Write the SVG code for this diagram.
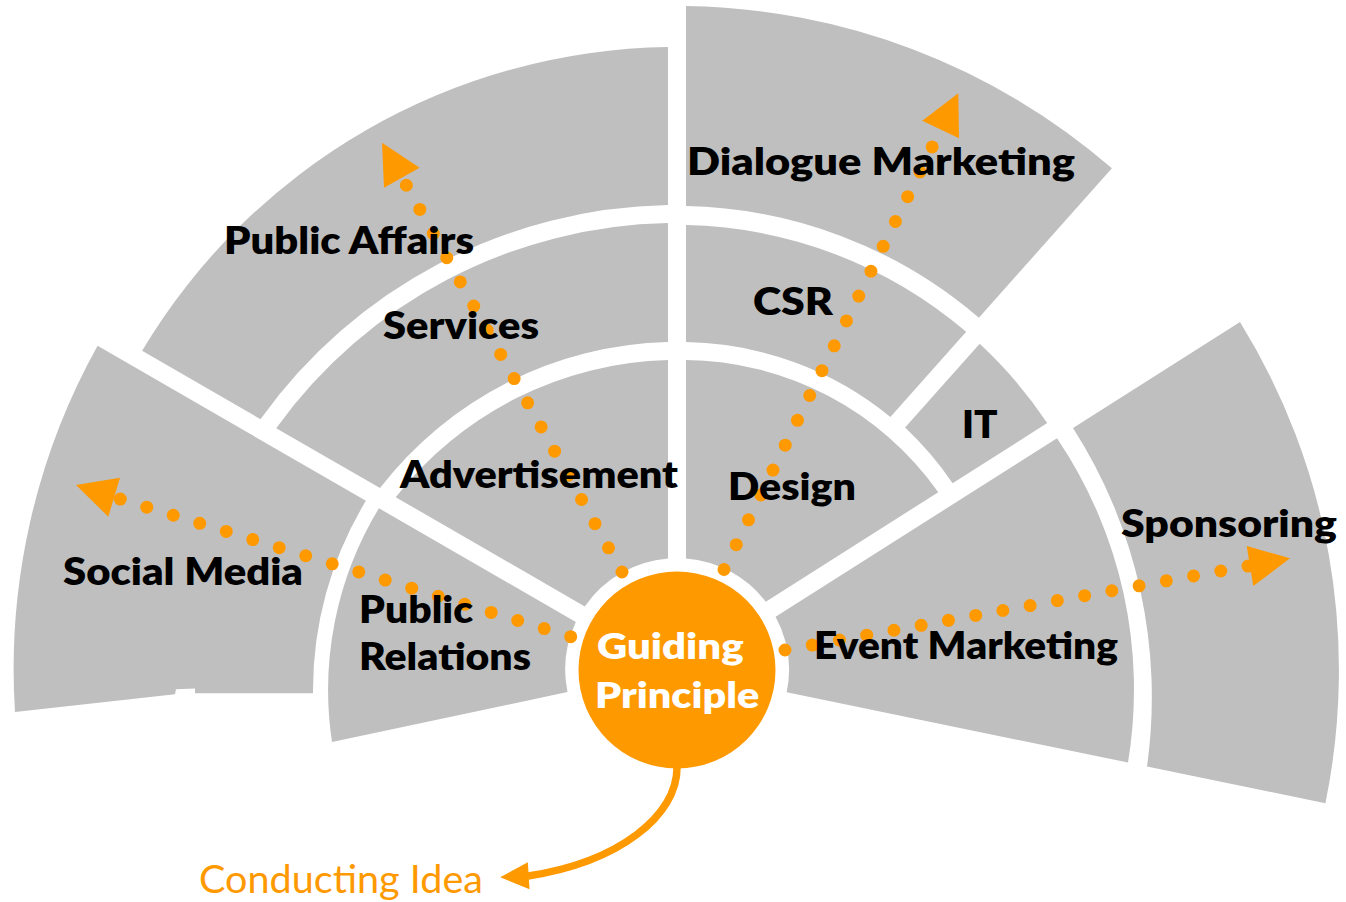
<svg xmlns="http://www.w3.org/2000/svg" width="1346" height="902" viewBox="0 0 1346 902">
<defs>
<style>
.seg{fill:#BFBFBF}
.lbl{font-family:Lato,"Liberation Sans",sans-serif;font-weight:800;font-size:38px;fill:#000}
.gp{font-family:Lato,"Liberation Sans",sans-serif;font-weight:800;font-size:35px;fill:#fff}
.ci{font-family:Lato,"Liberation Sans",sans-serif;font-weight:400;font-size:38px;fill:#FF9900}
.dots{fill:none;stroke:#FF9900;stroke-width:13;stroke-linecap:round;stroke-dasharray:0 1}
.ah{fill:#FF9900}
.curve{fill:none;stroke:#FF9900;stroke-width:7.5}
</style>
</defs>
<rect width="1346" height="902" fill="#fff"/>

<g id="social-media">
<path class="seg" d="M97.6,345.8 A664,664 0 0 0 15,712 L175,694.2 L176,689.3 L195,688.6 L195,693.3 L313,693.3 A365,365 0 0 1 365.9,500.8 Z"/>
</g>
<g id="public-relations">
<path class="seg" d="M575.8,622 L378.9,508.3 A350,350 0 0 0 332,742 L567.5,692 A112,112 0 0 1 575.8,622 Z"/>
</g>
<g id="advertisement">
<path class="seg" d="M584.8,606.4 L395.7,497.2 A357,357 0 0 1 668,360.1 L668,558.4 A112,112 0 0 0 584.8,606.4 Z"/>
</g>
<g id="services">
<path class="seg" d="M380,488.1 L276.2,428.2 A494,494 0 0 1 668,223.1 L668,342.1 A375,375 0 0 0 380,488.1 Z"/>
</g>
<g id="public-affairs">
<path class="seg" d="M260.5,419.2 L142.1,350.7 A623,623 0 0 1 668,47.1 L668,205.1 A512,512 0 0 0 260.5,419.2 Z"/>
</g>
<g id="design">
<path class="seg" d="M686,558.4 L686,360.1 A313,313 0 0 1 938.3,492.2 L765.8,601.7 A112,112 0 0 0 686,558.4 Z"/>
</g>
<g id="csr">
<path class="seg" d="M686,342.1 L686,225.1 A445,445 0 0 1 966.2,331.8 L890.4,417 A331,331 0 0 0 686,342.1 Z"/>
</g>
<g id="dialogue-marketing">
<path class="seg" d="M686,206.1 L686,6.1 A664,664 0 0 1 1111.9,168.3 L978.9,317.7 A464,464 0 0 0 686,206.1 Z"/>
</g>
<g id="it">
<path class="seg" d="M905.1,427.5 L979.7,343.8 A445,445 0 0 1 1047.2,423.1 L952.6,483.2 A333,333 0 0 0 905.1,427.5 Z"/>
</g>
<g id="event-marketing">
<path class="seg" d="M775.6,616.8 L1057,438.2 A449,449 0 0 1 1128,762.6 L786.7,692.3 A112,112 0 0 0 775.6,616.8 Z"/>
</g>
<g id="sponsoring">
<path class="seg" d="M1073,428 L1240,322 A662,662 0 0 1 1325.4,803.3 L1147,766.5 A499,499 0 0 0 1073,428 Z"/>
</g>
<g id="guiding-principle">
<circle cx="677" cy="670" r="98.5" fill="#FF9900"/>
<text class="gp" x="597" y="659" textLength="146.6" lengthAdjust="spacingAndGlyphs">Guiding</text>
<text class="gp" x="595" y="708.3" textLength="164.3" lengthAdjust="spacingAndGlyphs">Principle</text>
</g>

<g id="connectors">
<path class="dots" pathLength="16.01" d="M622,572 L406.2,185"/>
<polygon class="ah" points="382,142.7 419.6,167.7 384,187.7"/>
<path class="dots" pathLength="17.01" d="M724,569.5 L932.3,146.7"/>
<polygon class="ah" points="958.3,93.3 922.3,120.7 959,138.3"/>
<path class="dots" pathLength="17.01" d="M570.7,636.7 L120,499"/>
<polygon class="ah" points="76,485 120,477.7 108.3,516.7"/>
<path class="dots" pathLength="17.01" d="M785,650 L1248.3,566"/>
<polygon class="ah" points="1290,558.3 1246.7,546 1253.3,586"/>
<path class="curve" d="M677,768 C677,815 620,862 528,876"/>
<polygon class="ah" points="500.2,877.3 527.8,862.3 529.5,889.3"/>
</g>

<g id="labels">
<text id="label-social-media" class="lbl" x="63" y="585" textLength="240" lengthAdjust="spacingAndGlyphs">Social Media</text>
<text id="label-public" class="lbl" x="359" y="622.7" textLength="114" lengthAdjust="spacingAndGlyphs">Public</text>
<text id="label-relations" class="lbl" x="359" y="670" textLength="172" lengthAdjust="spacingAndGlyphs">Relations</text>
<text id="label-advertisement" class="lbl" x="400" y="488" textLength="278" lengthAdjust="spacingAndGlyphs">Advertisement</text>
<text id="label-services" class="lbl" x="383" y="339" textLength="156" lengthAdjust="spacingAndGlyphs">Services</text>
<text id="label-public-affairs" class="lbl" x="224" y="254" textLength="250" lengthAdjust="spacingAndGlyphs">Public Affairs</text>
<text id="label-design" class="lbl" x="728" y="500" textLength="128" lengthAdjust="spacingAndGlyphs">Design</text>
<text id="label-csr" class="lbl" x="753" y="315" textLength="80" lengthAdjust="spacingAndGlyphs">CSR</text>
<text id="label-dialogue-marketing" class="lbl" x="687" y="175" textLength="388" lengthAdjust="spacingAndGlyphs">Dialogue Marketing</text>
<text id="label-it" class="lbl" x="962" y="437.7" textLength="35.6" lengthAdjust="spacingAndGlyphs">IT</text>
<text id="label-event-marketing" class="lbl" x="814" y="659" textLength="304" lengthAdjust="spacingAndGlyphs">Event Marketing</text>
<text id="label-sponsoring" class="lbl" x="1121" y="537.3" textLength="216" lengthAdjust="spacingAndGlyphs">Sponsoring</text>
<text id="label-conducting-idea" class="ci" x="199" y="893" textLength="284" lengthAdjust="spacingAndGlyphs">Conducting Idea</text>
</g>
</svg>
